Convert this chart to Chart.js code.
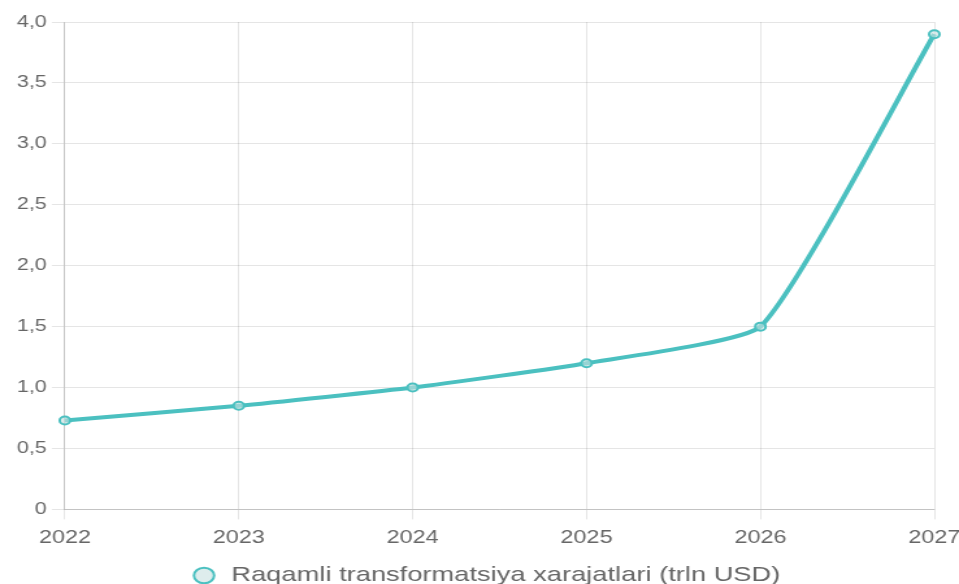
<!DOCTYPE html>
<html>
<head>
<meta charset="utf-8">
<script src="https://cdn.jsdelivr.net/npm/chart.js@4/dist/chart.umd.min.js"></script>
<style>
  html, body { margin: 0; padding: 0; background: #fff; overflow: hidden; width: 959px; height: 584px; }
  #chart { display: block; width: 959px; height: 596px; }
</style>
</head>
<body>
<canvas id="chart" width="738" height="596" style="width:959px;height:596px"></canvas>
<script>
const years = ['2022', '2023', '2024', '2025', '2026', '2027'];
const spending = [0.73, 0.85, 1.0, 1.2, 1.5, 3.9];
const yTickLabels = ['0', '0,5', '1,0', '1,5', '2,0', '2,5', '3,0', '3,5', '4,0'];
const seriesLabel = 'Raqamli transformatsiya xarajatlari (trln USD)';

const TEAL = 'rgb(75, 192, 192)';
const GREY = '#666';

const ctx = document.getElementById('chart').getContext('2d');
new Chart(ctx, {
  type: 'line',
  data: {
    labels: years,
    datasets: [{
      label: seriesLabel,
      data: spending,
      borderColor: TEAL,
      backgroundColor: 'rgba(220, 222, 224, 1)',
      borderWidth: 4,
      tension: 0.15,
      pointRadius: 4,
      pointBorderWidth: 2,
      pointBackgroundColor: 'rgba(200, 225, 225, 0.6)',
      pointBorderColor: TEAL,
      fill: false,
    }],
  },
  options: {
    responsive: false,
    animation: false,
    devicePixelRatio: 1,
    layout: { padding: { top: 22, left: 9, right: 0, bottom: 0 } },
    font: { family: 'Arial' },
    plugins: {
      legend: {
        position: 'bottom',
        labels: {
          usePointStyle: true,
          pointStyle: 'circle',
          boxHeight: 11,
          color: GREY,
          padding: 8,
          font: { family: 'Arial', size: 21 },
        },
      },
      tooltip: { enabled: false },
    },
    scales: {
      x: {
        grid: { color: 'rgba(0,0,0,0.1)', tickLength: 10 },
        border: { color: 'rgba(0,0,0,0.15)' },
        ticks: { color: GREY, font: { family: 'Arial', size: 18 }, padding: 8, maxRotation: 0 },
        afterFit(scale) { scale.paddingRight = 19; },
      },
      y: {
        min: 0,
        max: 4,
        grid: { color: 'rgba(0,0,0,0.1)', tickLength: 10 },
        border: { color: 'rgba(0,0,0,0.15)' },
        ticks: {
          stepSize: 0.5,
          color: GREY,
          padding: 4,
          font: { family: 'Arial', size: 16.5 },
          callback: (v, i) => yTickLabels[i],
        },
      },
    },
  },
});
</script>
</body>
</html>
